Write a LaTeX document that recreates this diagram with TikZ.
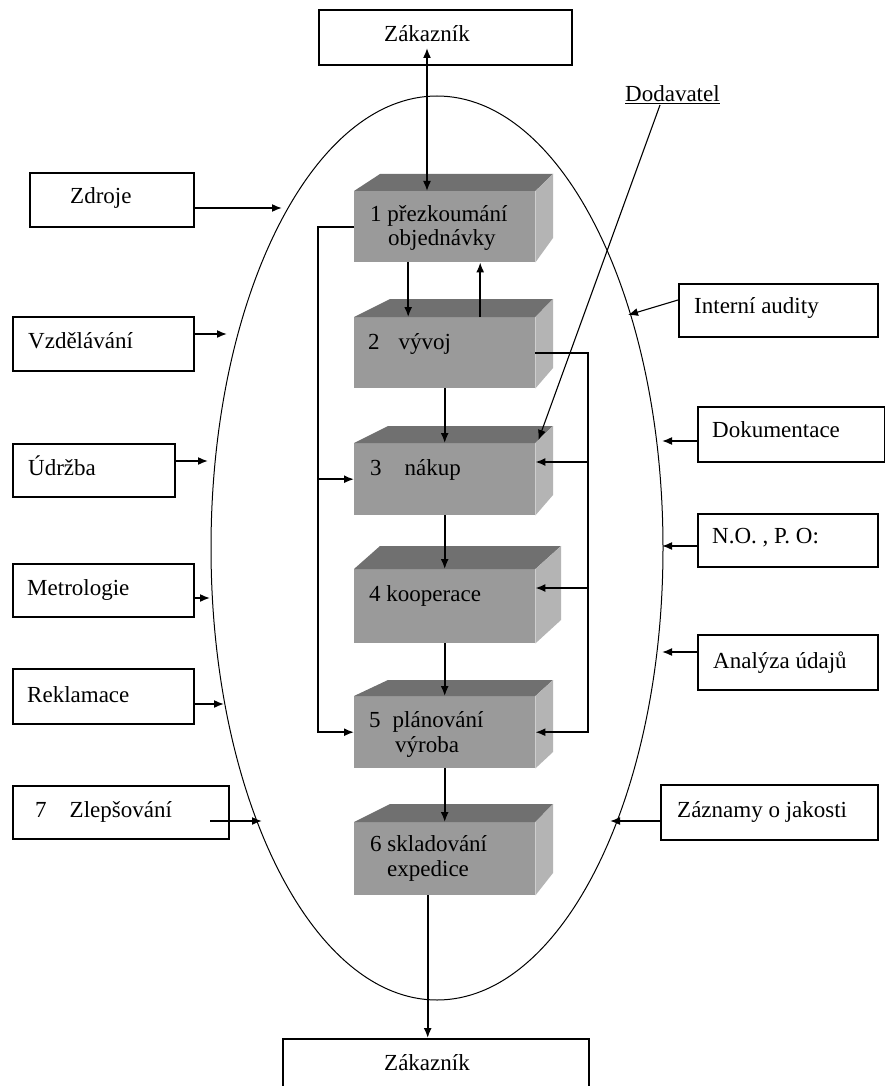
\documentclass[tikz,border=0pt]{standalone}
\usepackage{fontspec}
\setmainfont{Liberation Serif}
\usetikzlibrary{arrows.meta}

\definecolor{facefront}{RGB}{154,154,154}
\definecolor{facetop}{RGB}{112,112,112}
\definecolor{faceside}{RGB}{180,180,180}

% a process block drawn as a shaded slab:
% #1 name, #2 front top y, #3 front height, #4 back y, #5 back-left x,
% #6 back-right x, #7 side bottom y, #8 front width
\newcommand\slab[8]{%
  \node[front, minimum width=#8pt, minimum height=#3pt, anchor=north west] (#1) at (354,#2) {};
  \fill[facetop] (#1.north west) -- (#5,#4) -- (#6,#4) -- (#1.north east) -- cycle;
  \fill[faceside] (#1.north east) -- (#6,#4) -- (#6,#7) -- (#1.south east) -- cycle;
}

\begin{document}
\begin{tikzpicture}[x=1pt, y=-1pt,
  lbl/.style={inner sep=0pt, font=\fontsize{23}{27}\selectfont},
  box/.style={draw, line width=1.8pt, inner sep=0pt, anchor=north west},
  front/.style={fill=facefront, draw=none, inner sep=0pt},
  arr/.style={line width=1.6pt, -{Latex[length=10pt,width=8pt]}},
  darr/.style={line width=1.6pt, {Latex[length=10pt,width=8pt]}-{Latex[length=10pt,width=8pt]}},
  thinarr/.style={line width=1.1pt, -{Latex[length=10pt,width=8pt]}}]

\useasboundingbox (0,0) rectangle (885,1086);
\fill[white] (0,0) rectangle (885,1086);

% the organisation boundary
\draw[line width=1pt] (437,548) ellipse [x radius=226, y radius=452];

% customers
\node[box, minimum width=253pt, minimum height=55pt] (zakT) at (318,9) {};
\node[lbl, anchor=base] (zakTt) at (427,42) {Zákazník};
\node[box, minimum width=306pt, minimum height=70pt] (zakB) at (282,1038) {};
\node[lbl, anchor=base] (zakBt) at (427,1070) {Zákazník};

% supplier
\node[lbl, anchor=base west] (dod) at (625,102) {\underline{Dodavatel}};
\coordinate (dodS) at (660,105);

% process blocks
\slab{b1}{191}{71}{174}{380}{553}{238}{181}
\slab{b2}{317}{71}{299}{390}{553}{368}{181}
\slab{b3}{443}{72}{426}{388}{553}{495}{181}
\slab{b4}{569}{74}{546}{380}{561}{620}{181}
\slab{b5}{696}{72}{680}{388}{553}{752}{181}
\slab{b6}{822}{73}{804}{390}{553}{873}{181}

\node[lbl, anchor=base west] (b1a) at (370,222) {1 přezkoumání};
\node[lbl, anchor=base west] (b1b) at (388,245) {objednávky};
\node[lbl, anchor=base west] (b2a) at (368,349) {2\hspace{19pt}vývoj};
\node[lbl, anchor=base west] (b3a) at (370,475) {3\hspace{23pt}nákup};
\node[lbl, anchor=base west] (b4a) at (369,601) {4 kooperace};
\node[lbl, anchor=base west] (b5a) at (369,727) {5\hspace{12pt}plánování};
\node[lbl, anchor=base west] (b5b) at (395,752) {výroba};
\node[lbl, anchor=base west] (b6a) at (370,851) {6 skladování};
\node[lbl, anchor=base west] (b6b) at (387,876) {expedice};

% support processes on the left
\node[box, minimum width=164pt, minimum height=54pt] (zdroje) at (29,172) {};
\node[lbl, anchor=base west] (zdrojeT) at (70,204) {Zdroje};
\node[box, minimum width=181pt, minimum height=54pt] (vzdel) at (12,316) {};
\node[lbl, anchor=base west] (vzdelT) at (28,348) {Vzdělávání};
\node[box, minimum width=162pt, minimum height=53pt] (udrz) at (12,443) {};
\node[lbl, anchor=base west] (udrzT) at (28,475) {Údržba};
\node[box, minimum width=181pt, minimum height=53pt] (metro) at (12,563) {};
\node[lbl, anchor=base west] (metroT) at (27,595) {Metrologie};
\node[box, minimum width=181pt, minimum height=55pt] (rekl) at (12,668) {};
\node[lbl, anchor=base west] (reklT) at (27,702) {Reklamace};
\node[box, minimum width=216pt, minimum height=53pt] (zlep) at (12,785) {};
\node[lbl, anchor=base west] (zlepT) at (35,817) {7\hspace{23pt}Zlepšování};

% management processes on the right
\node[box, minimum width=199pt, minimum height=53pt] (audit) at (678,283) {};
\node[lbl, anchor=base west] (auditT) at (694,313) {Interní audity};
\node[box, minimum width=187pt, minimum height=55pt] (dokum) at (697,406) {};
\node[lbl, anchor=base west] (dokumT) at (712,437) {Dokumentace};
\node[box, minimum width=180pt, minimum height=53pt] (nopo) at (697,513) {};
\node[lbl, anchor=base west] (nopoT) at (712,543) {N.O. , P. O:};
\node[box, minimum width=180pt, minimum height=55pt] (anal) at (697,634) {};
\node[lbl, anchor=base west] (analT) at (713,668) {Analýza údajů};
\node[box, minimum width=217pt, minimum height=55pt] (zazn) at (660,784) {};
\node[lbl, anchor=base west] (zaznT) at (677,817) {Záznamy o jakosti};

% points where the inputs meet the boundary
\coordinate (eZd) at (282,208);
\coordinate (eVz) at (227,334);
\coordinate (eUd) at (208,461);
\coordinate (eMe) at (210,598);
\coordinate (eRe) at (224,704);
\coordinate (eZl) at (262,821);
\coordinate (zlS) at (210,821);
\coordinate (auS) at (678,300);
\coordinate (eAu) at (628,315);
\coordinate (eDo) at (662,441);
\coordinate (eNo) at (662,546);
\coordinate (eAn) at (662,652);
\coordinate (eZa) at (610,821);

\draw[arr] (zdroje.east |- eZd) -- (eZd);
\draw[arr] (vzdel.east |- eVz) -- (eVz);
\draw[arr] (udrz.east |- eUd) -- (eUd);
\draw[arr] (metro.east |- eMe) -- (eMe);
\draw[arr] (rekl.east |- eRe) -- (eRe);
\draw[arr] (zlS) -- (eZl);
\draw[thinarr] (auS) -- (eAu);
\draw[arr] (dokum.west |- eDo) -- (eDo);
\draw[arr] (nopo.west |- eNo) -- (eNo);
\draw[arr] (anal.west |- eAn) -- (eAn);
\draw[arr] (zazn.west |- eZa) -- (eZa);

% customer link
\coordinate (cTop) at (427,48);
\draw[darr] (cTop) -- (cTop |- b1.north);

% main flow
\draw[arr] ([xshift=-36.5pt]b1.south) -- ([xshift=-36.5pt]b1.south |- b2.north);
\draw[arr] ([xshift=35.5pt]b2.north) -- ([xshift=35.5pt]b2.north |- b1.south);
\draw[arr] (b2.south) -- (b2.south |- b3.north);
\draw[arr] (b3.south) -- (b3.south |- b4.north);
\draw[arr] (b4.south) -- (b4.south |- b5.north);
\draw[arr] (b5.south) -- (b5.south |- b6.north);
\draw[arr] ([xshift=-17pt]b6.south) -- ([xshift=-17pt]b6.south |- zakB.north);

% feedback from order review
\coordinate (lx) at (318,0);
\draw[arr] (b1.west) -- (lx |- b1.west) -- (lx |- b5.west) -- (b5.west);
\draw[arr] (lx |- b3.west) -- (b3.west);

% feedback from development
\coordinate (rx) at (588,0);
\draw[arr] (b2.east) -- (rx |- b2.east) -- (rx |- b5.east) -- (b5.east);
\draw[arr] (rx |- 0,462) -- (b3.east |- 0,462);
\draw[arr] (rx |- 0,588) -- (b4.east |- 0,588);

% supplier delivers to purchasing
\draw[thinarr] (dodS) -- ([xshift=3pt,yshift=3pt]b3.north east);

\end{tikzpicture}
\end{document}
